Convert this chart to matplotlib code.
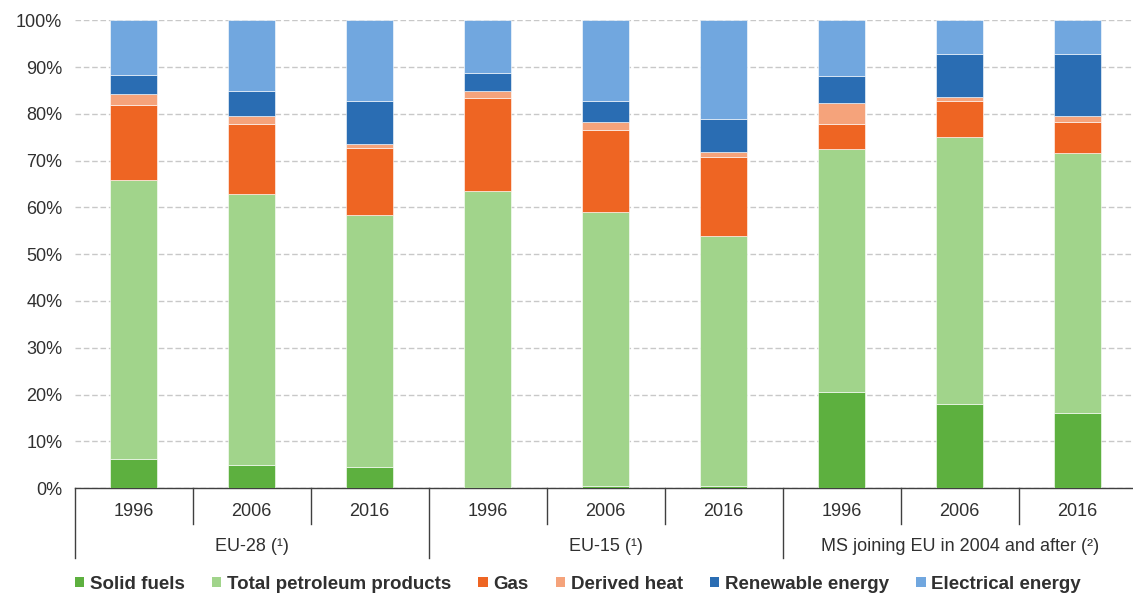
import numpy as np
import matplotlib.pyplot as plt
from matplotlib.patches import Patch

plt.rcParams['font.family'] = ['Liberation Sans', 'DejaVu Sans']

years = ['1996', '2006', '2016'] * 3
groups = ['EU-28 (¹)', 'EU-15 (¹)', 'MS joining EU in 2004 and after (²)']

solid = [6.2, 4.9, 4.6, 0.1, 0.4, 0.4, 20.5, 17.9, 16.0]
petroleum = [59.6, 57.9, 53.7, 63.4, 58.6, 53.4, 51.9, 57.2, 55.7]
gas = [16.0, 15.1, 14.4, 19.8, 17.5, 16.9, 5.5, 7.6, 6.6]
derived = [2.4, 1.6, 0.9, 1.5, 1.7, 1.1, 4.4, 0.8, 1.2]
renewable = [4.0, 5.3, 9.1, 3.9, 4.5, 7.2, 5.7, 9.2, 13.2]
electrical = [11.8, 15.2, 17.3, 11.3, 17.3, 21.0, 12.0, 7.3, 7.3]

series = [
    ('Solid fuels', solid, '#5DB03F'),
    ('Total petroleum products', petroleum, '#A1D48B'),
    ('Gas', gas, '#EE6523'),
    ('Derived heat', derived, '#F5A37B'),
    ('Renewable energy', renewable, '#2A6DB3'),
    ('Electrical energy', electrical, '#71A7DF'),
]

text_color = '#303030'
fs = 13

fig = plt.figure(figsize=(11.33, 5.96), dpi=100)
ax = fig.add_axes([0.066, 0.181, 0.934, 0.785])

x = np.arange(len(years))
bottom = np.zeros(len(years))
for name, vals, col in series:
    vals = np.array(vals) / 100
    ax.bar(x, vals, 0.4, bottom=bottom, color=col, edgecolor='white',
           linewidth=0.4, zorder=3)
    bottom += vals

ax.set_xlim(-0.5, 8.47)
ax.set_ylim(0, 1)
ax.set_yticks(np.arange(0, 1.01, 0.1))
ax.set_yticklabels([f'{int(round(v * 100))}%' for v in np.arange(0, 1.01, 0.1)],
                   fontsize=fs, color=text_color)
ax.yaxis.grid(True, linestyle=(0, (4, 2)), color='#c8c8c8', linewidth=1, zorder=0)
ax.tick_params(axis='y', length=0, pad=9)
ax.set_xticks([])
for s in ['left', 'right', 'top']:
    ax.spines[s].set_visible(False)
ax.spines['bottom'].set_color('#404040')
ax.spines['bottom'].set_linewidth(1)

# category frame below the axis
trans = ax.get_xaxis_transform()
for i, yr in enumerate(years):
    ax.text(i, -0.05, yr, transform=trans, ha='center', va='center',
            fontsize=fs, color=text_color)
for b in [0.5, 1.5, 3.5, 4.5, 6.5, 7.5]:
    ax.plot([b, b], [0, -0.077], transform=trans, color='#404040', lw=1, clip_on=False)
for b in [-0.5, 2.5, 5.5]:
    ax.plot([b, b], [0, -0.15], transform=trans, color='#404040', lw=1, clip_on=False)
for g, name in enumerate(groups):
    ax.text(3 * g + 1, -0.125, name, transform=trans, ha='center', va='center',
            fontsize=fs, color=text_color)

handles = [Patch(facecolor=c, edgecolor='none', label=n) for n, _, c in series]
fig.legend(handles=handles, loc='center', bbox_to_anchor=(0.51, 0.02), ncol=6,
           frameon=False, handlelength=0.5, handleheight=0.5, handletextpad=0.3,
           columnspacing=1.45, prop={'weight': 'bold', 'size': 13.5},
           labelcolor=text_color)

fig.savefig('out.png', dpi=100)
